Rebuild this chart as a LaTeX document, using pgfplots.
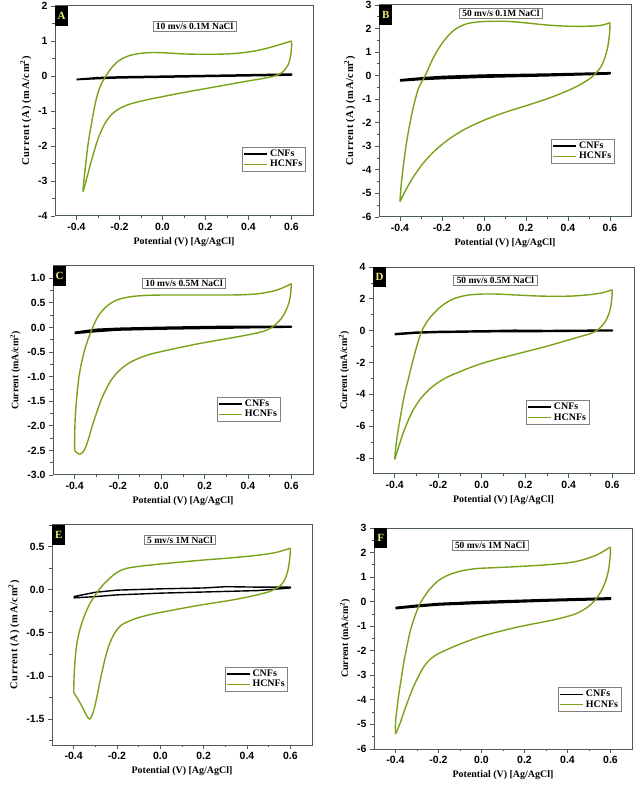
\documentclass[border=0pt]{standalone}
\usepackage{fontspec}
\setmainfont{Liberation Serif}
\newfontfamily\arialf{Liberation Sans}
\usepackage{pgfplots}
\pgfplotsset{compat=1.18}

\definecolor{hgreen}{RGB}{122,162,24}
\definecolor{framec}{RGB}{75,90,90}
\definecolor{letterc}{RGB}{240,235,120}

\newcommand{\ylA}{{\fontsize{10.5}{12}\selectfont\addfontfeatures{LetterSpace=6}Current (A) (mA/cm\textsuperscript{2})}}
\newcommand{\ylB}{Current (mA/cm\textsuperscript{2})}

\pgfplotsset{
  cv/.style={
    scale only axis,
    xmin=-0.5, xmax=0.7,
    xtick={-0.4,-0.2,0,0.2,0.4,0.6},
    xticklabels={-0.4,-0.2,0.0,0.2,0.4,0.6},
    minor xtick={-0.3,-0.1,0.1,0.3,0.5},
    tick pos=left, tick align=outside,
    major tick length=4bp, minor tick length=2.5bp,
    axis line style={framec, line width=1pt},
    tick style={framec, line width=0.8pt},
    tick label style={font=\arialf\bfseries\fontsize{10.5}{12}\selectfont, black},
    label style={font=\bfseries\fontsize{10}{12}\selectfont},
    xlabel={Potential (V) [Ag/AgCl]},
    legend style={draw=gray, line width=0.5pt, fill=white,
      font=\bfseries\fontsize{10}{11}\selectfont, anchor=north west,
      inner sep=1pt, row sep=-2pt, cells={anchor=west}},
    legend image code/.code={\draw[##1] (0bp,0bp) -- (23bp,0bp);},
  },
  cnf/.style={black, line width=1.8pt, line join=round},
  hcnf/.style={hgreen, line width=1.4pt, line join=round, smooth, tension=0.55},
}
\tikzset{
  tag/.style={fill=black, text=letterc, font=\bfseries\fontsize{11}{12}\selectfont,
    anchor=north west, minimum width=13bp, minimum height=20bp, inner sep=0pt},
  ttl/.style={draw=gray, fill=white, line width=0.6pt,
    font=\bfseries\fontsize{9.5}{11}\selectfont, inner xsep=3bp, inner ysep=1.5bp},
}

\begin{document}
\begin{tikzpicture}
\useasboundingbox (0,0) rectangle (637bp,787bp);

% A
\begin{axis}[cv, at={(55bp,571bp)}, anchor=south west, width=258bp, height=210bp,
  ymin=-4, ymax=2, ytick={-4,-3,...,2}, yticklabels={-4,-3,-2,-1,0,1,2},
  minor ytick={-3.5,-2.5,...,1.5}, ylabel={\ylA},
  legend style={at={(rel axis cs:0.725,0.329)}}]
\addplot[cnf] coordinates {(-0.4,-0.10) (-0.3,-0.05) (-0.2,-0.03) (0,-0.01) (0.3,0.02) (0.6,0.05)
  (0.6,0.03) (0.3,0.0) (0,-0.03) (-0.2,-0.05) (-0.3,-0.07) (-0.4,-0.10)};
\addlegendentry{CNFs}
\addplot[hcnf] coordinates {(-0.37,-3.30) (-0.365,-2.95) (-0.355,-2.40) (-0.345,-1.90) (-0.33,-1.35)
  (-0.315,-0.85) (-0.30,-0.48) (-0.28,-0.17) (-0.26,0.03) (-0.235,0.25) (-0.20,0.45) (-0.16,0.57)
  (-0.11,0.64) (-0.05,0.67) (0.02,0.66) (0.10,0.63) (0.20,0.62) (0.30,0.63) (0.38,0.67)
  (0.45,0.74) (0.52,0.85) (0.60,1.00)};
\addlegendentry{HCNFs}
\addplot[hcnf, forget plot] coordinates {(0.60,1.00) (0.60,0.80) (0.595,0.55) (0.585,0.33)
  (0.565,0.15) (0.54,0.04) (0.50,-0.03) (0.45,-0.09) (0.40,-0.14) (0.30,-0.25) (0.20,-0.36)
  (0.10,-0.47) (0.00,-0.59) (-0.08,-0.69) (-0.15,-0.80) (-0.20,-0.93) (-0.24,-1.12)
  (-0.27,-1.38) (-0.30,-1.80) (-0.325,-2.30) (-0.345,-2.75) (-0.36,-3.10) (-0.37,-3.30)};
\node[tag] at (rel axis cs:0,1) {A};
\node[ttl] at (rel axis cs:0.541,0.902) {10 mv/s 0.1M NaCl};
\end{axis}

% B
\begin{axis}[cv, at={(379bp,570bp)}, anchor=south west, width=252bp, height=212bp,
  ymin=-6, ymax=3, ytick={-6,-5,...,3}, yticklabels={-6,-5,-4,-3,-2,-1,0,1,2,3},
  minor ytick={-5.5,-4.5,...,2.5}, ylabel={\ylA},
  legend style={at={(rel axis cs:0.683,0.368)}}]
\addplot[cnf] coordinates {(-0.4,-0.18) (-0.3,-0.10) (-0.2,-0.04) (0,0.02) (0.3,0.06) (0.6,0.12)
  (0.6,0.08) (0.3,0.0) (0,-0.06) (-0.2,-0.12) (-0.3,-0.16) (-0.4,-0.22)};
\addlegendentry{CNFs}
\addplot[hcnf] coordinates {(-0.40,-5.35) (-0.395,-4.70) (-0.385,-3.90) (-0.37,-2.90) (-0.35,-1.90)
  (-0.33,-1.10) (-0.31,-0.50) (-0.28,0.00) (-0.25,0.60) (-0.22,1.10) (-0.18,1.60) (-0.14,1.95)
  (-0.09,2.18) (-0.03,2.28) (0.05,2.31) (0.12,2.30) (0.20,2.24) (0.30,2.15) (0.40,2.10)
  (0.50,2.10) (0.56,2.14) (0.60,2.25)};
\addlegendentry{HCNFs}
\addplot[hcnf, forget plot] coordinates {(0.60,2.25) (0.598,1.80) (0.59,1.25) (0.575,0.75)
  (0.555,0.35) (0.53,0.08) (0.50,-0.15) (0.45,-0.42) (0.40,-0.63) (0.32,-0.92) (0.22,-1.22)
  (0.12,-1.50) (0.02,-1.82) (-0.08,-2.22) (-0.16,-2.65) (-0.23,-3.15) (-0.29,-3.72)
  (-0.34,-4.35) (-0.375,-4.90) (-0.40,-5.35)};
\node[tag] at (rel axis cs:0,1) {B};
\node[ttl] at (rel axis cs:0.484,0.96) {50 mv/s 0.1M NaCl};
\end{axis}

% C
\begin{axis}[cv, at={(53bp,312bp)}, anchor=south west, width=260bp, height=209bp,
  ymin=-3, ymax=1.25, ytick={-3,-2.5,...,1},
  yticklabels={-3.0,-2.5,-2.0,-1.5,-1.0,-0.5,0.0,0.5,1.0},
  minor ytick={-2.75,-2.25,...,0.75}, ylabel={\ylB},
  legend style={at={(rel axis cs:0.63,0.373)}}]
\addplot[cnf] coordinates {(-0.4,-0.10) (-0.3,-0.04) (-0.2,-0.02) (0,0.0) (0.3,0.02) (0.6,0.02)
  (0.6,0.01) (0.3,-0.01) (0,-0.03) (-0.2,-0.05) (-0.3,-0.08) (-0.4,-0.12)};
\addlegendentry{CNFs}
\addplot[hcnf] coordinates {(-0.40,-2.50) (-0.40,-2.20) (-0.397,-1.80) (-0.39,-1.40) (-0.38,-1.00)
  (-0.365,-0.65) (-0.345,-0.33) (-0.317,0.00) (-0.29,0.24) (-0.255,0.42) (-0.21,0.55)
  (-0.15,0.62) (-0.08,0.65) (0.01,0.66) (0.16,0.66) (0.31,0.66) (0.40,0.67) (0.47,0.70)
  (0.54,0.77) (0.60,0.89)};
\addlegendentry{HCNFs}
\addplot[hcnf, forget plot] coordinates {(0.60,0.89) (0.597,0.70) (0.59,0.52) (0.575,0.34)
  (0.555,0.19) (0.53,0.07) (0.51,0.00) (0.47,-0.08) (0.40,-0.15) (0.30,-0.23) (0.16,-0.34)
  (0.01,-0.48) (-0.07,-0.57) (-0.14,-0.70) (-0.19,-0.86) (-0.23,-1.06) (-0.26,-1.30)
  (-0.28,-1.50) (-0.30,-1.75) (-0.32,-2.02) (-0.337,-2.28) (-0.352,-2.46) (-0.365,-2.55)
  (-0.38,-2.575) (-0.39,-2.55) (-0.40,-2.50)};
\node[tag] at (rel axis cs:0,1) {C};
\node[ttl] at (rel axis cs:0.504,0.916) {10 mv/s 0.5M NaCl};
\end{axis}

% D
\begin{axis}[cv, at={(373bp,313bp)}, anchor=south west, width=261bp, height=207bp,
  ymin=-9, ymax=4, ytick={-8,-6,...,4}, yticklabels={-8,-6,-4,-2,0,2,4},
  minor ytick={-7,-5,...,3}, ylabel={\ylB},
  legend style={at={(rel axis cs:0.586,0.357)}}]
\addplot[cnf] coordinates {(-0.4,-0.20) (-0.3,-0.10) (-0.2,-0.06) (0,-0.02) (0.15,0.02) (0.3,0.0)
  (0.6,0.03) (0.6,0.0) (0.3,-0.04) (0,-0.06) (-0.2,-0.10) (-0.3,-0.14) (-0.4,-0.24)};
\addlegendentry{CNFs}
\addplot[hcnf] coordinates {(-0.40,-8.08) (-0.395,-7.30) (-0.385,-6.30) (-0.37,-5.10) (-0.355,-4.00)
  (-0.335,-2.90) (-0.315,-1.80) (-0.295,-0.80) (-0.275,0.00) (-0.25,0.60) (-0.22,1.10)
  (-0.18,1.60) (-0.13,2.00) (-0.07,2.22) (0.00,2.30) (0.07,2.30) (0.16,2.24) (0.28,2.17)
  (0.40,2.17) (0.48,2.24) (0.55,2.37) (0.60,2.57)};
\addlegendentry{HCNFs}
\addplot[hcnf, forget plot] coordinates {(0.60,2.57) (0.598,2.00) (0.59,1.30) (0.575,0.75)
  (0.555,0.33) (0.53,0.03) (0.50,-0.18) (0.45,-0.38) (0.38,-0.66) (0.29,-1.01) (0.17,-1.43)
  (0.06,-1.82) (-0.02,-2.15) (-0.10,-2.57) (-0.17,-3.00) (-0.23,-3.55) (-0.28,-4.25)
  (-0.32,-5.10) (-0.355,-6.20) (-0.38,-7.20) (-0.40,-8.08)};
\node[tag] at (rel axis cs:0,1) {D};
\node[ttl] at (rel axis cs:0.469,0.937) {50 mv/s 0.5M NaCl};
\end{axis}

% E
\begin{axis}[cv, at={(52bp,42bp)}, anchor=south west, width=260bp, height=220bp,
  ymin=-1.8, ymax=0.75, ytick={-1.5,-1,...,0.5}, yticklabels={-1.5,-1.0,-0.5,0.0,0.5},
  minor ytick={-1.75,-1.25,...,0.75}, ylabel={\ylA},
  legend style={at={(rel axis cs:0.665,0.355)}}]
\addplot[black, line width=1.4pt, line join=round] coordinates {(-0.4,-0.08) (-0.3,-0.03)
  (-0.2,-0.005) (0,0.01) (0.2,0.02) (0.3,0.035) (0.45,0.03) (0.6,0.03)
  (0.6,0.02) (0.45,-0.01) (0.3,-0.02) (0,-0.04) (-0.2,-0.06) (-0.3,-0.08) (-0.4,-0.095)};
\addlegendentry{CNFs}
\addplot[hcnf] coordinates {(-0.40,-1.19) (-0.398,-1.00) (-0.393,-0.80) (-0.385,-0.62)
  (-0.37,-0.45) (-0.35,-0.30) (-0.325,-0.16) (-0.30,-0.06) (-0.27,0.04) (-0.235,0.13)
  (-0.20,0.20) (-0.16,0.245) (-0.10,0.27) (-0.03,0.29) (0.05,0.31) (0.18,0.34) (0.33,0.37)
  (0.45,0.40) (0.53,0.43) (0.60,0.48)};
\addlegendentry{HCNFs}
\addplot[hcnf, forget plot] coordinates {(0.60,0.48) (0.598,0.38) (0.59,0.24) (0.575,0.12)
  (0.555,0.05) (0.53,0.01) (0.50,-0.025) (0.43,-0.07) (0.33,-0.12) (0.18,-0.18) (0.05,-0.24)
  (-0.05,-0.29) (-0.12,-0.34) (-0.18,-0.41) (-0.21,-0.50) (-0.235,-0.63) (-0.255,-0.80)
  (-0.275,-1.02) (-0.295,-1.27) (-0.31,-1.42) (-0.325,-1.50) (-0.34,-1.46) (-0.36,-1.36)
  (-0.38,-1.27) (-0.40,-1.19)};
\node[tag] at (rel axis cs:0,1) {E};
\node[ttl] at (rel axis cs:0.492,0.932) {5 mv/s 1M NaCl};
\end{axis}

% F
\begin{axis}[cv, at={(374bp,38bp)}, anchor=south west, width=258bp, height=221bp,
  ymin=-6, ymax=3, ytick={-6,-5,...,3}, yticklabels={-6,-5,-4,-3,-2,-1,0,1,2,3},
  minor ytick={-5.5,-4.5,...,2.5}, ylabel={\ylB},
  legend style={at={(rel axis cs:0.713,0.28)}}]
\addplot[cnf] coordinates {(-0.4,-0.24) (-0.3,-0.15) (-0.2,-0.08) (0,0.0) (0.3,0.08) (0.6,0.15)
  (0.6,0.10) (0.3,0.03) (0,-0.06) (-0.2,-0.13) (-0.3,-0.20) (-0.4,-0.28)};
\addlegendentry{CNFs}
\addplot[hcnf] coordinates {(-0.40,-5.39) (-0.40,-4.90) (-0.395,-4.50) (-0.385,-3.80)
  (-0.372,-3.07) (-0.36,-2.40) (-0.345,-1.75) (-0.33,-1.15) (-0.31,-0.60) (-0.29,-0.15)
  (-0.27,0.15) (-0.24,0.52) (-0.20,0.86) (-0.15,1.10) (-0.09,1.26) (-0.02,1.35) (0.05,1.38)
  (0.17,1.43) (0.30,1.50) (0.40,1.58) (0.47,1.70) (0.54,1.92) (0.60,2.23)};
\addlegendentry{HCNFs}
\addplot[hcnf, forget plot] coordinates {(0.60,2.23) (0.598,1.80) (0.59,1.25) (0.575,0.78)
  (0.555,0.40) (0.53,0.08) (0.50,-0.18) (0.45,-0.45) (0.40,-0.60) (0.32,-0.77) (0.17,-1.03)
  (0.02,-1.36) (-0.08,-1.66) (-0.16,-1.95) (-0.22,-2.22) (-0.26,-2.55) (-0.295,-3.07)
  (-0.325,-3.65) (-0.355,-4.35) (-0.38,-4.98) (-0.40,-5.39)};
\node[tag] at (rel axis cs:0,1) {F};
\node[ttl] at (rel axis cs:0.45,0.921) {50 mv/s 1M NaCl};
\end{axis}
\end{tikzpicture}
\end{document}
